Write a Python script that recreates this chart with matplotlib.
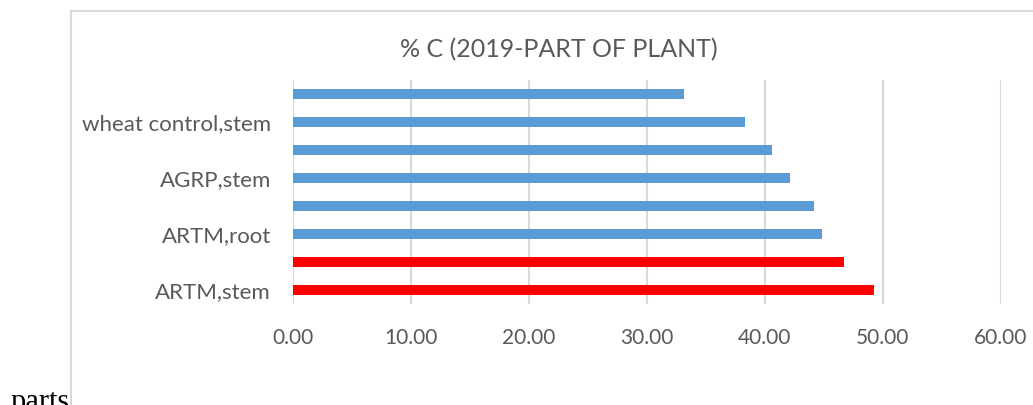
import matplotlib.pyplot as plt
from matplotlib.patches import Rectangle

# Datos (de abajo hacia arriba)
etiquetas = ["ARTM,stem", "", "ARTM,root", "", "AGRP,stem", "", "wheat control,stem", ""]
valores = [49.24, 46.69, 44.81, 44.15, 42.10, 40.57, 38.29, 33.16]
colores = ["#FF0000", "#FF0000", "#5B9BD5", "#5B9BD5", "#5B9BD5", "#5B9BD5", "#5B9BD5", "#5B9BD5"]
ticks_x = [0, 10, 20, 30, 40, 50, 60]
titulo = "% C (2019-PART OF PLANT)"

gris_texto = "#595959"
gris_linea = "#D9D9D9"

fig = plt.figure(figsize=(10.33, 4.05), dpi=100)
fig.patch.set_facecolor("white")

# Marco del gráfico (se sale por la derecha y abajo)
fig.patches.append(Rectangle((0.069, -0.1), 1.0, 0.1 + 0.972, transform=fig.transFigure,
                             fill=False, edgecolor=gris_linea, linewidth=1.5))

ax = fig.add_axes([0.2839, 0.2486, 0.9687 - 0.2839, 0.8017 - 0.2486])
pos = range(len(valores))
ax.barh(pos, valores, height=0.37, color=colores, zorder=3)

ax.set_xlim(0, 60)
ax.set_ylim(-0.5, len(valores) - 0.5)
ax.set_xticks(ticks_x)
ax.set_xticklabels([f"{t:.2f}" for t in ticks_x])
ax.set_yticks(list(pos))
ax.set_yticklabels(etiquetas)

ax.grid(True, axis="x", color=gris_linea, linewidth=1.5, zorder=0)
for s in ax.spines.values():
    s.set_visible(False)
ax.tick_params(axis="both", length=0, labelcolor=gris_texto)
ax.tick_params(axis="x", pad=17, labelsize=15)
ax.tick_params(axis="y", pad=16, labelsize=16)
for lbl in ax.get_xticklabels() + ax.get_yticklabels():
    lbl.set_family("Lato")

fig.text(0.5406, 0.877, titulo, ha="center", va="center", fontsize=18,
         color=gris_texto, family="Lato")

fig.text(0.0097, -0.012, "parts", ha="left", va="baseline", fontsize=22,
         color="black", family="Liberation Serif")

plt.savefig("out.png", dpi=100)
